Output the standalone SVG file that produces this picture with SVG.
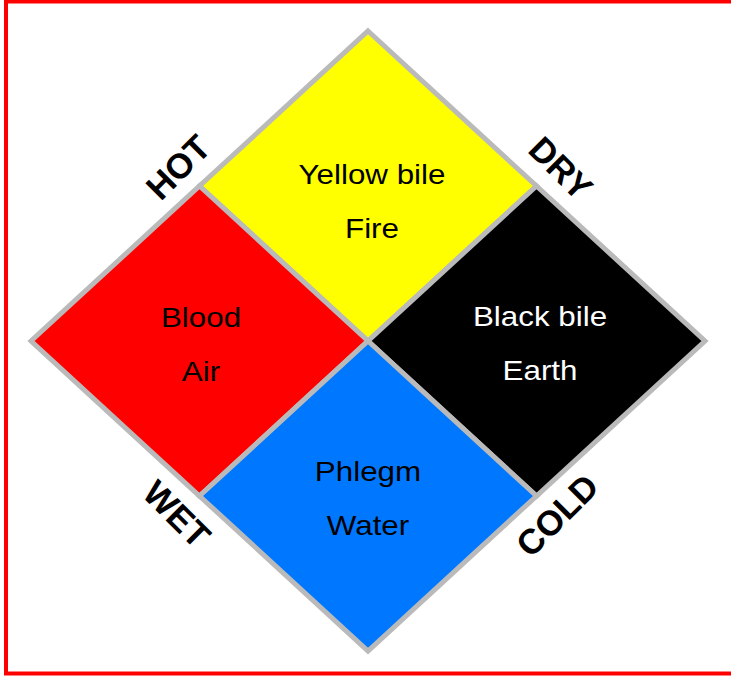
<svg xmlns="http://www.w3.org/2000/svg" width="731" height="677" viewBox="0 0 731 677">
<style>
.q{stroke:#bababa;stroke-width:5;stroke-linejoin:miter}
.t{font-family:"Liberation Sans",Arial,sans-serif;font-size:28px;text-anchor:middle}
.l{font-family:"Liberation Sans",Arial,sans-serif;font-size:35px;font-weight:bold;text-anchor:middle;dominant-baseline:central}
</style>
<rect x="6" y="1.5" width="740" height="672" fill="#fff" stroke="#ff0000" stroke-width="4"/>
<g id="yellow"><polygon class="q" fill="#ffff00" points="368,31 536.5,186 368,341 199.5,186"/><text class="t" transform="translate(372,184) scale(1.12,1)">Yellow bile</text><text class="t" transform="translate(372,238) scale(1.12,1)">Fire</text></g>
<g id="red"><polygon class="q" fill="#ff0000" points="199.5,186 368,341 199.5,496 31,341"/><text class="t" transform="translate(201,327) scale(1.12,1)">Blood</text><text class="t" transform="translate(201,381) scale(1.12,1)">Air</text></g>
<g id="black"><polygon class="q" fill="#000000" points="536.5,186 705,341 536.5,496 368,341"/><text class="t" fill="#fff" transform="translate(540,326) scale(1.12,1)">Black bile</text><text class="t" fill="#fff" transform="translate(540,380) scale(1.12,1)">Earth</text></g>
<g id="blue"><polygon class="q" fill="#0077ff" points="368,341 536.5,496 368,651 199.5,496"/><text class="t" transform="translate(368,481) scale(1.12,1)">Phlegm</text><text class="t" transform="translate(368,535) scale(1.12,1)">Water</text></g>
<g id="labels">
<text class="l" transform="translate(178,167) rotate(-45)">HOT</text>
<text class="l" transform="translate(561,168) rotate(45)">DRY</text>
<text class="l" transform="translate(177,514) rotate(45)">WET</text>
<text class="l" transform="translate(557,515) rotate(-45)">COLD</text>
</g>
</svg>
